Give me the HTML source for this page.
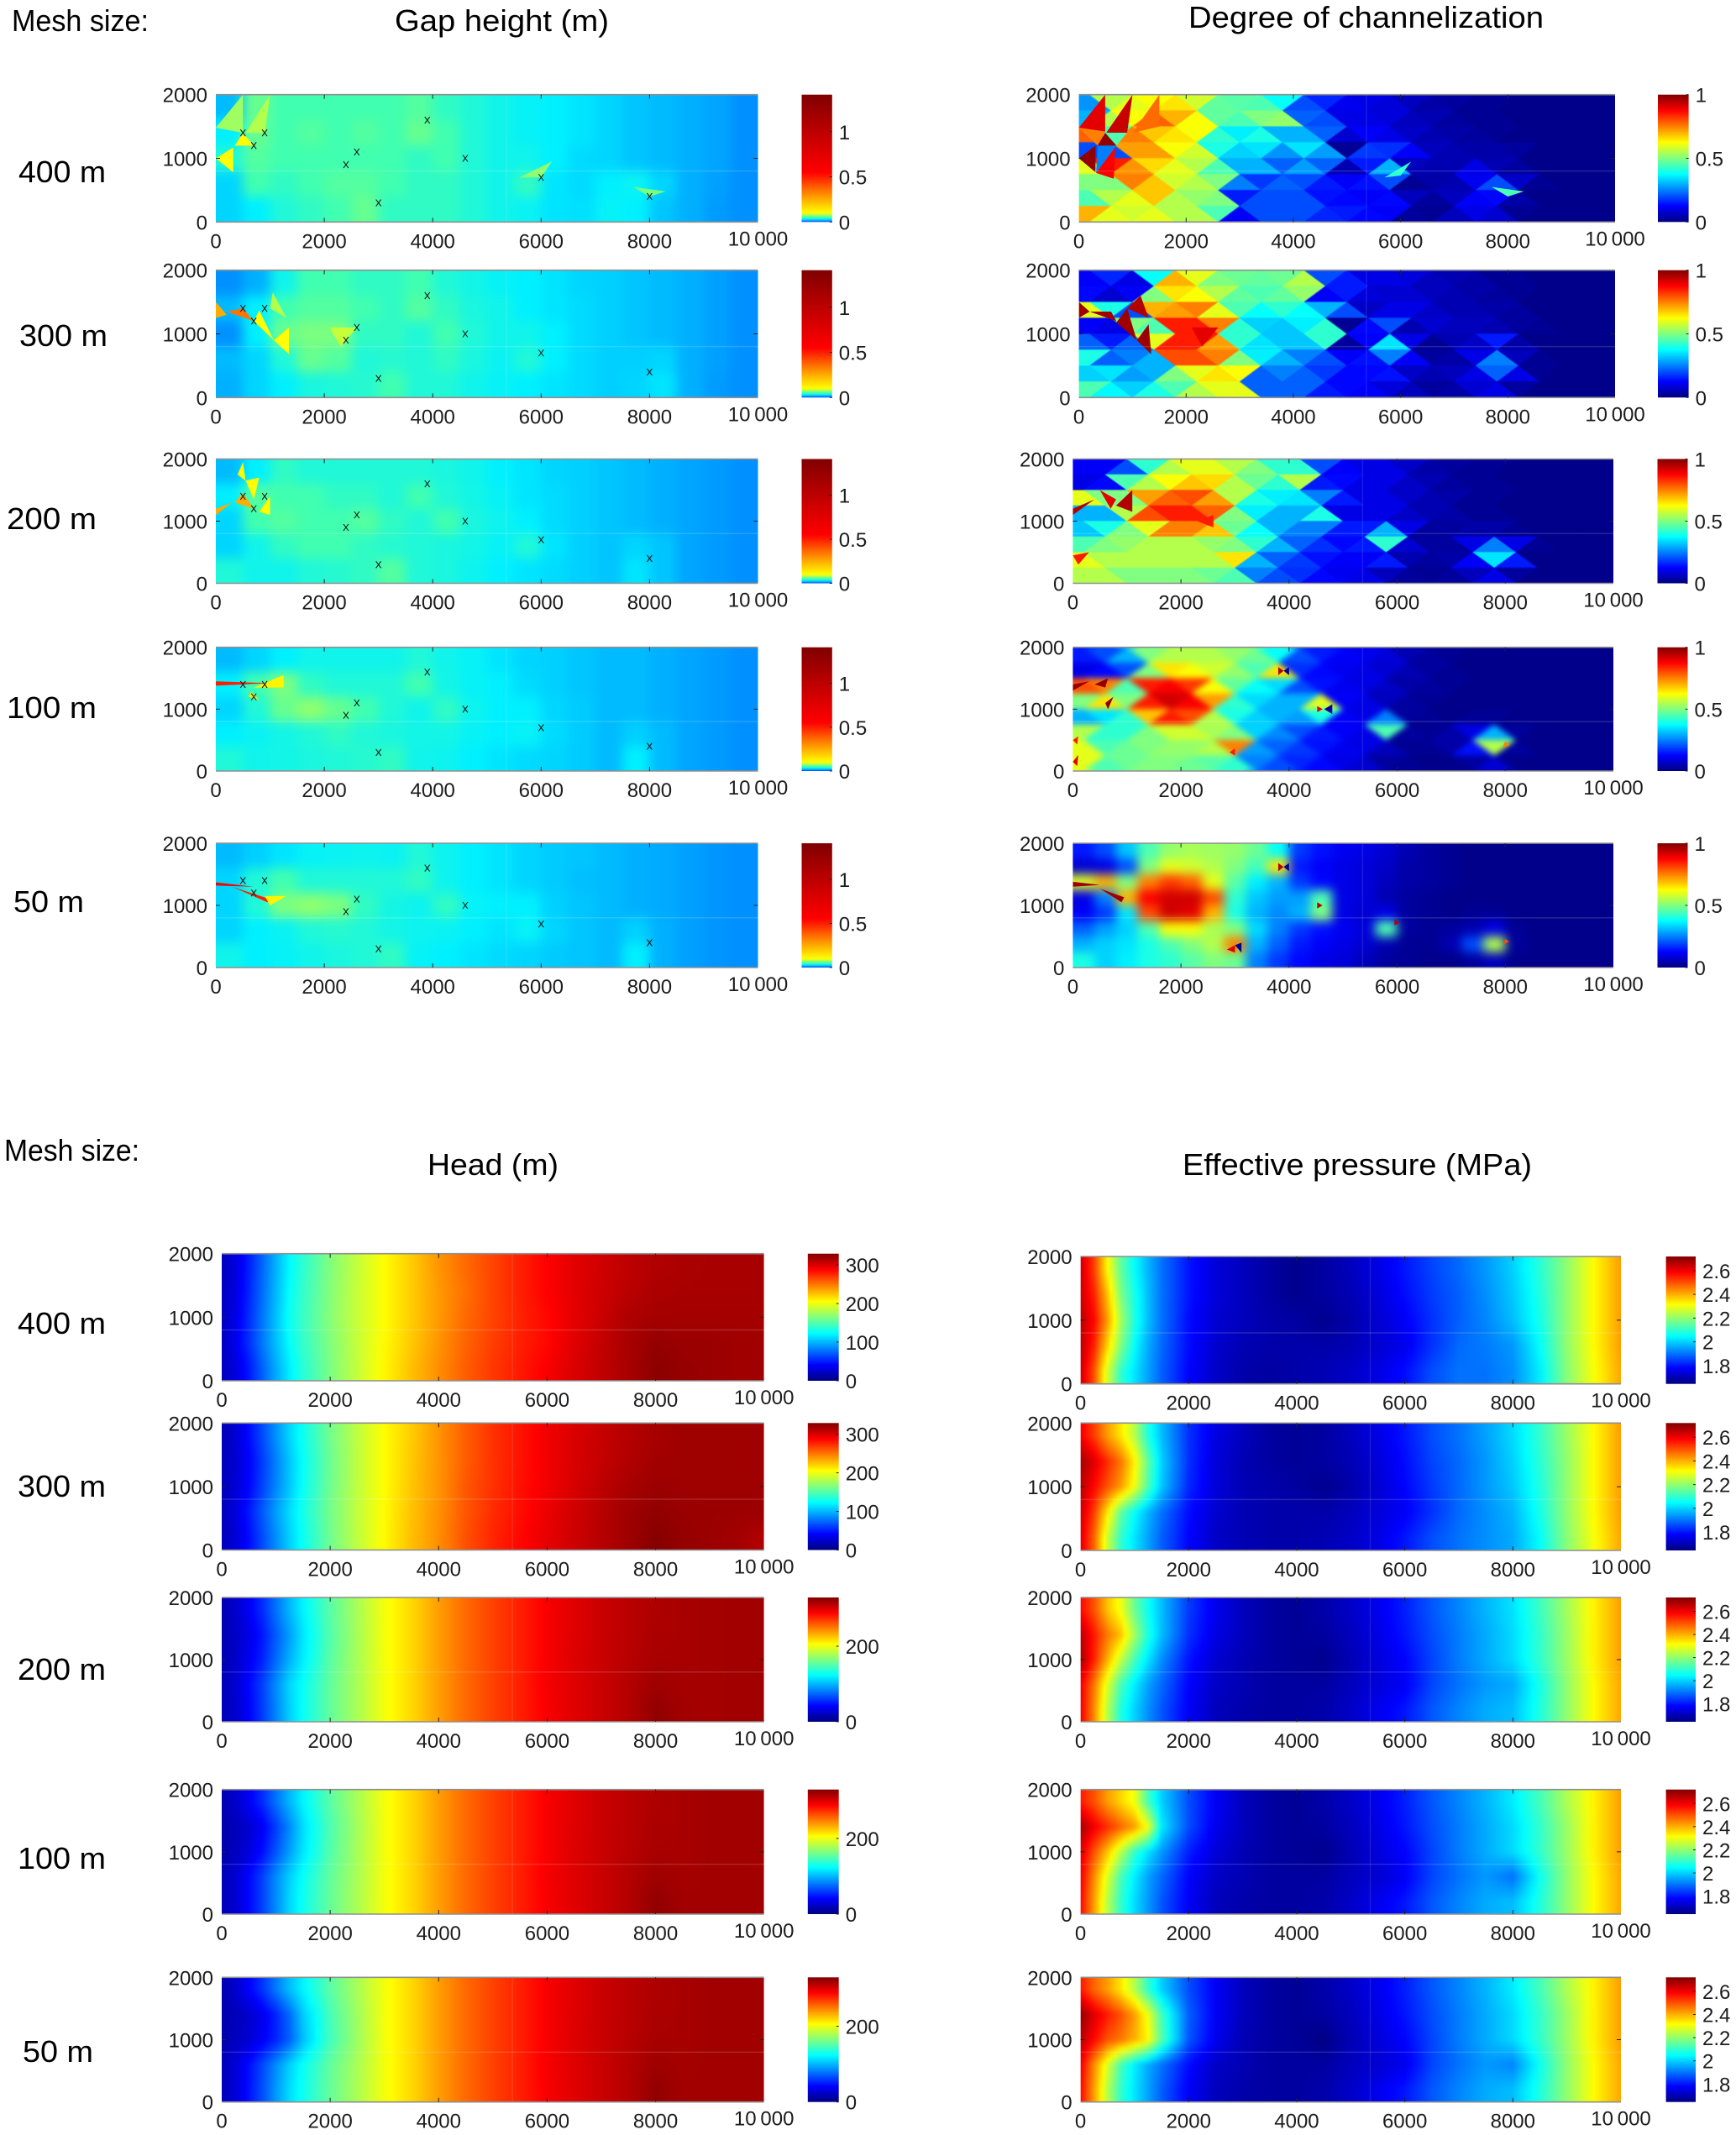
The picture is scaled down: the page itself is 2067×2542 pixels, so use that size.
<!DOCTYPE html>
<html lang="en">
<head>
<meta charset="utf-8">
<title>Mesh size comparison of subglacial fields</title>
<style>
html,body{margin:0;padding:0;background:#fff;}
svg{display:block;}
.t{font-family:"Liberation Sans",sans-serif;fill:#000;}
.k{font-family:"Liberation Sans",sans-serif;fill:#1c1c1c;font-size:24px;}
</style>
</head>
<body>
<svg id="figure" xmlns="http://www.w3.org/2000/svg" width="2067" height="2542" viewBox="0 0 2067 2542">
<defs id="defs">
<filter id="blurGap" x="-15%" y="-40%" width="130%" height="180%" color-interpolation-filters="sRGB"><feGaussianBlur stdDeviation="7"/></filter>
<filter id="blurMesh" x="-15%" y="-40%" width="130%" height="180%" color-interpolation-filters="sRGB"><feGaussianBlur stdDeviation="0.5"/></filter>
<filter id="blurFine" x="-15%" y="-40%" width="130%" height="180%" color-interpolation-filters="sRGB"><feGaussianBlur stdDeviation="3.5"/></filter>
<filter id="blurSmooth" x="-15%" y="-40%" width="130%" height="180%" color-interpolation-filters="sRGB"><feGaussianBlur stdDeviation="6"/></filter>
<filter id="blurRows" x="-5%" y="-40%" width="110%" height="180%" color-interpolation-filters="sRGB"><feGaussianBlur stdDeviation="0 3"/></filter>
</defs>
<rect width="2067" height="2542" fill="#fff"/>
<text class="t" x="14" y="37" font-size="36" textLength="163" lengthAdjust="spacingAndGlyphs">Mesh size:</text>
<text class="t" x="470" y="37" font-size="36" textLength="255" lengthAdjust="spacingAndGlyphs">Gap height (m)</text>
<text class="t" x="1415" y="33" font-size="36" textLength="423" lengthAdjust="spacingAndGlyphs">Degree of channelization</text>
<text class="t" x="22" y="217" font-size="36" textLength="104" lengthAdjust="spacingAndGlyphs">400 m</text>
<text class="t" x="23" y="412" font-size="36" textLength="105" lengthAdjust="spacingAndGlyphs">300 m</text>
<text class="t" x="8" y="630" font-size="36" textLength="107" lengthAdjust="spacingAndGlyphs">200 m</text>
<text class="t" x="8" y="855" font-size="36" textLength="107" lengthAdjust="spacingAndGlyphs">100 m</text>
<text class="t" x="16" y="1086" font-size="36" textLength="84" lengthAdjust="spacingAndGlyphs">50 m</text>
<text class="t" x="5" y="1382" font-size="36" textLength="161" lengthAdjust="spacingAndGlyphs">Mesh size:</text>
<text class="t" x="509" y="1399" font-size="36" textLength="156" lengthAdjust="spacingAndGlyphs">Head (m)</text>
<text class="t" x="1408" y="1399" font-size="36" textLength="416" lengthAdjust="spacingAndGlyphs">Effective pressure (MPa)</text>
<text class="t" x="21" y="1588" font-size="36" textLength="105" lengthAdjust="spacingAndGlyphs">400 m</text>
<text class="t" x="21" y="1782" font-size="36" textLength="105" lengthAdjust="spacingAndGlyphs">300 m</text>
<text class="t" x="21" y="2000" font-size="36" textLength="105" lengthAdjust="spacingAndGlyphs">200 m</text>
<text class="t" x="21" y="2225" font-size="36" textLength="105" lengthAdjust="spacingAndGlyphs">100 m</text>
<text class="t" x="27" y="2455" font-size="36" textLength="84" lengthAdjust="spacingAndGlyphs">50 m</text>
<g id="charts"></g>
</svg>
<script>
/* ---------- axis data ---------- */
const xTickValues = [0,2000,4000,6000,8000,10000];
const xTickLabels = ['0','2000','4000','6000','8000','10\u2009000'];
const yTickValues = [0,1000,2000];
const yTickLabels = ['0','1000','2000'];
const gapBarTicks = [0,0.5,1];
const gapBarLabels = ['0','0.5','1'];
const degreeBarTicks = [0,0.5,1];
const degreeBarLabels = ['0','0.5','1'];
const headBarTicksCoarse = [0,100,200,300];
const headBarLabelsCoarse = ['0','100','200','300'];
const headBarTicksFine = [0,200];
const headBarLabelsFine = ['0','200'];
const pressureBarTicks = [1.8,2,2.2,2.4,2.6];
const pressureBarLabels = ['1.8','2','2.2','2.4','2.6'];
const meshNames = ['400','300','200','100','50'];

/* moulin locations (m) */
const moulinX = [500,900,700,2600,2400,3900,4600,3000,6000,8000];
const moulinY = [1400,1400,1200,1100,900,1600,1000,300,700,400];

/* gap height (m): 20 columns of 500 m, rows from top */
const gap400 = [
[.02,.06,.05,.05,.05,.05,.05,.055,.045,.04,.035,.032,.03,.028,.025,.022,.02,.018,.016,.012],
[.03,.06,.05,.055,.05,.055,.05,.06,.05,.04,.035,.032,.03,.028,.025,.022,.02,.018,.016,.012],
[.04,.055,.05,.05,.05,.05,.05,.045,.05,.04,.035,.035,.03,.026,.025,.022,.02,.018,.016,.012],
[.025,.05,.045,.05,.055,.055,.05,.045,.045,.04,.035,.045,.028,.026,.03,.033,.025,.018,.015,.012],
[.025,.03,.04,.045,.05,.06,.045,.045,.045,.04,.035,.033,.028,.027,.032,.03,.022,.018,.014,.012]];
const gap300 = [
[.012,.018,.035,.05,.05,.045,.045,.05,.04,.036,.032,.03,.028,.025,.024,.022,.02,.018,.015,.012],
[.02,.03,.05,.055,.055,.05,.045,.055,.045,.038,.035,.03,.028,.026,.024,.022,.02,.018,.015,.012],
[.012,.03,.06,.065,.065,.045,.045,.04,.05,.04,.035,.035,.03,.026,.024,.022,.02,.018,.015,.012],
[.02,.025,.04,.06,.055,.04,.042,.04,.045,.038,.033,.04,.03,.026,.024,.024,.025,.018,.015,.012],
[.018,.025,.03,.038,.04,.042,.05,.04,.04,.035,.032,.03,.028,.026,.024,.025,.028,.018,.014,.012]];
const gap200 = [
[.02,.03,.045,.04,.04,.04,.04,.04,.038,.035,.03,.028,.025,.024,.022,.02,.018,.016,.014,.012],
[.03,.055,.05,.05,.045,.045,.04,.05,.04,.036,.032,.028,.026,.024,.022,.02,.018,.016,.014,.012],
[.025,.05,.055,.05,.05,.055,.045,.04,.05,.038,.034,.03,.026,.024,.022,.02,.018,.016,.014,.012],
[.025,.035,.045,.05,.05,.045,.042,.04,.038,.036,.032,.04,.028,.024,.022,.025,.022,.016,.014,.012],
[.04,.035,.035,.04,.042,.045,.055,.04,.038,.034,.03,.028,.026,.024,.022,.028,.022,.016,.014,.012]];
const gap100 = [
[.02,.025,.03,.035,.035,.035,.035,.04,.035,.032,.028,.025,.024,.022,.02,.02,.018,.016,.014,.012],
[.03,.05,.065,.045,.04,.04,.04,.05,.036,.032,.03,.026,.024,.022,.02,.02,.018,.016,.014,.012],
[.025,.04,.06,.07,.06,.05,.04,.035,.045,.034,.03,.03,.025,.023,.02,.02,.018,.016,.014,.012],
[.03,.033,.036,.04,.045,.04,.038,.036,.036,.032,.03,.032,.026,.023,.02,.024,.02,.016,.014,.012],
[.04,.035,.036,.038,.04,.042,.045,.035,.034,.03,.028,.026,.025,.023,.02,.03,.02,.016,.014,.012]];
const gap50 = [
[.02,.024,.028,.032,.033,.034,.033,.04,.034,.03,.028,.025,.023,.022,.02,.018,.017,.015,.013,.012],
[.025,.04,.05,.04,.04,.04,.04,.045,.034,.03,.028,.025,.023,.021,.02,.018,.017,.015,.013,.012],
[.025,.04,.065,.07,.065,.045,.037,.034,.045,.032,.03,.03,.024,.022,.02,.018,.017,.015,.013,.012],
[.025,.03,.033,.04,.042,.04,.036,.034,.033,.03,.028,.032,.025,.022,.02,.024,.018,.015,.013,.012],
[.035,.03,.032,.035,.038,.04,.045,.032,.03,.028,.026,.025,.023,.022,.02,.03,.018,.015,.013,.012]];

/* degree of channelization: 25 columns of 400 m, rows from top */
const degree400 = [
[.27,.55,.6,.62,.65,.58,.47,.46,.45,.38,.2,.16,.11,.1,.09,.06,.04,.03,.02,.02,.01,.01,.01,.01,.01],
[.3,.55,.62,.78,.7,.62,.47,.45,.5,.52,.22,.2,.1,.1,.09,.06,.05,.03,.02,.02,.01,.01,.01,.01,.01],
[.78,.45,.75,.68,.65,.62,.42,.36,.4,.3,.3,.22,.08,.12,.1,.07,.05,.04,.03,.02,.01,.01,.01,.01,.01],
[.2,.2,.72,.72,.62,.58,.4,.33,.35,.27,.35,.28,.02,.18,.17,.12,.06,.05,.04,.04,.03,.01,.01,.01,.01],
[.6,.85,.73,.66,.6,.55,.45,.3,.3,.22,.28,.22,.05,.15,.3,.06,.05,.05,.1,.05,.03,.01,.01,.01,.01],
[.5,.5,.75,.68,.58,.55,.5,.25,.18,.22,.2,.15,.12,.14,.2,.02,.04,.05,.11,.2,.07,.02,.01,.01,.01],
[.45,.55,.6,.68,.55,.52,.5,.15,.2,.2,.2,.14,.13,.12,.13,.06,.03,.06,.12,.13,.04,.01,.01,.01,.01],
[.7,.6,.58,.6,.55,.55,.45,.12,.2,.2,.2,.16,.15,.13,.12,.03,.02,.06,.1,.08,.02,.01,.01,.01,.01]];
const degree300 = [
[.12,.16,.1,.38,.7,.6,.5,.48,.47,.48,.55,.2,.15,.1,.1,.09,.06,.05,.04,.02,.02,.01,.01,.01,.01],
[.13,.08,.12,.5,.65,.62,.55,.47,.45,.47,.52,.12,.15,.09,.08,.08,.06,.05,.04,.03,.02,.01,.01,.01,.01],
[.6,.4,.2,.7,.72,.75,.6,.45,.38,.42,.38,.3,.2,.07,.1,.1,.07,.05,.05,.04,.03,.01,.01,.01,.01],
[.12,.1,.5,.45,.85,.85,.75,.42,.33,.32,.36,.42,.02,.13,.2,.05,.08,.06,.06,.05,.03,.02,.01,.01,.01],
[.22,.15,.22,.6,.85,.85,.72,.42,.35,.32,.32,.42,.03,.12,.35,.1,.02,.05,.07,.15,.04,.01,.01,.01,.01],
[.4,.22,.25,.3,.8,.8,.75,.5,.36,.3,.25,.2,.12,.14,.25,.12,.03,.04,.1,.25,.06,.02,.01,.01,.01],
[.33,.35,.28,.3,.5,.6,.65,.62,.22,.25,.22,.18,.13,.13,.14,.07,.05,.06,.1,.22,.1,.02,.01,.01,.01],
[.45,.37,.33,.4,.45,.55,.6,.6,.22,.22,.22,.15,.13,.12,.09,.06,.03,.04,.08,.1,.03,.01,.01,.01,.01]];
const degree200 = [
[.12,.12,.2,.42,.55,.6,.6,.55,.5,.42,.42,.2,.12,.1,.1,.07,.04,.03,.02,.02,.01,.01,.01,.01,.01],
[.1,.13,.45,.55,.62,.68,.66,.55,.48,.42,.55,.15,.13,.1,.1,.07,.05,.03,.02,.02,.01,.01,.01,.01,.01],
[.6,.5,.5,.72,.78,.8,.72,.55,.4,.36,.35,.25,.15,.1,.1,.07,.05,.04,.02,.02,.01,.01,.01,.01,.01],
[.3,.3,.55,.8,.85,.85,.78,.5,.36,.3,.3,.4,.1,.1,.1,.07,.05,.04,.02,.02,.01,.01,.01,.01,.01],
[.32,.4,.5,.6,.75,.75,.68,.48,.38,.3,.25,.25,.15,.15,.3,.1,.03,.03,.04,.04,.02,.01,.01,.01,.01],
[.45,.5,.52,.55,.55,.55,.52,.5,.42,.3,.22,.17,.13,.15,.42,.08,.03,.03,.1,.25,.1,.02,.01,.01,.01],
[.6,.55,.55,.55,.55,.55,.55,.65,.3,.22,.18,.14,.12,.12,.15,.05,.03,.04,.12,.35,.15,.01,.01,.01,.01],
[.55,.55,.5,.5,.5,.5,.48,.45,.25,.2,.17,.13,.11,.1,.06,.03,.02,.03,.06,.1,.03,.01,.01,.01,.01]];
const degree100 = [
[.15,.2,.3,.5,.55,.55,.55,.52,.48,.38,.2,.15,.12,.11,.09,.05,.03,.02,.01,.01,.01,.01,.01,.01,.01],
[.1,.13,.2,.5,.65,.62,.58,.52,.45,.65,.17,.13,.11,.1,.08,.05,.03,.02,.01,.01,.01,.01,.01,.01,.01],
[.8,.75,.45,.85,.88,.82,.62,.47,.38,.34,.2,.14,.11,.1,.07,.04,.03,.02,.01,.01,.01,.01,.01,.01,.01],
[.5,.65,.5,.85,.92,.88,.72,.42,.34,.3,.3,.6,.12,.1,.06,.03,.02,.01,.01,.01,.01,.01,.01,.01,.01],
[.3,.35,.42,.68,.85,.8,.55,.4,.33,.3,.28,.4,.12,.1,.25,.03,.02,.01,.02,.02,.01,.01,.01,.01,.01],
[.55,.42,.42,.5,.58,.58,.54,.5,.33,.26,.2,.15,.12,.1,.45,.03,.02,.04,.1,.3,.03,.01,.01,.01,.01],
[.6,.45,.48,.5,.52,.52,.55,.75,.28,.22,.18,.14,.11,.1,.06,.02,.02,.04,.14,.55,.03,.01,.01,.01,.01],
[.6,.45,.48,.5,.5,.48,.46,.42,.25,.2,.16,.13,.1,.08,.03,.02,.01,.01,.03,.08,.01,.01,.01,.01,.01]];
const degree50 = [
[.15,.2,.32,.45,.52,.54,.53,.52,.48,.38,.18,.14,.11,.1,.08,.05,.03,.02,.01,.01,.01,.01,.01,.01,.01],
[.08,.1,.2,.5,.6,.58,.55,.5,.44,.65,.15,.12,.1,.09,.07,.04,.03,.02,.01,.01,.01,.01,.01,.01,.01],
[.6,.7,.5,.75,.82,.78,.6,.46,.36,.3,.18,.13,.1,.09,.06,.04,.03,.02,.01,.01,.01,.01,.01,.01,.01],
[.1,.25,.7,.88,.92,.92,.8,.42,.32,.28,.28,.45,.1,.09,.05,.03,.02,.01,.01,.01,.01,.01,.01,.01,.01],
[.12,.18,.35,.8,.92,.9,.7,.4,.3,.26,.3,.5,.1,.08,.1,.03,.02,.01,.02,.02,.01,.01,.01,.01,.01],
[.22,.28,.33,.45,.62,.62,.54,.5,.34,.25,.18,.14,.11,.09,.45,.03,.02,.03,.05,.1,.02,.01,.01,.01,.01],
[.3,.33,.35,.4,.45,.5,.55,.75,.3,.22,.15,.12,.1,.08,.05,.02,.02,.05,.2,.55,.03,.01,.01,.01,.01],
[.4,.33,.36,.4,.42,.46,.5,.48,.25,.18,.13,.1,.09,.06,.03,.02,.01,.01,.03,.06,.01,.01,.01,.01,.01]];

/* triangular mesh facets: x1,y1,x2,y2,x3,y3 (m), value */
const gapFacets400 = [[0,1000,320,1170,320,780,.1],[500,1400,350,1200,700,1200,.1],[0,1480,500,2000,500,1400,.075],[550,1400,1000,2000,900,1400,.08],[5600,700,6200,950,6000,700,.07],[7700,550,8300,480,8000,400,.065]];
const gapFacets300 = [[0,1500,200,1300,0,1250,.25],[200,1350,500,1400,700,1200,.35],[800,1370,700,1200,1070,900,.1],[1070,900,1350,1100,1350,680,.1],[1000,1400,1050,1650,1300,1250,.08],[2100,1100,2600,1100,2300,800,.085]];
const gapFacets200 = [[0,1200,300,1300,0,1100,.25],[550,1650,700,1350,800,1700,.1],[350,1300,700,1200,500,1450,.25],[800,1150,1000,1400,1000,1100,.1],[400,1750,550,1650,500,1950,.1]];
const gapFacets100 = [[0,1380,1000,1420,0,1450,.5],[700,1350,1250,1550,1250,1350,.12],[600,1200,800,1150,650,1280,.15]];
const gapFacets50 = [[0,1320,700,1300,0,1370,.6],[300,1300,1000,1100,950,1050,.5],[900,1150,1300,1150,1000,1000,.12]];
const degreeFacets400 = [[0,1480,490,2000,490,1420,.9],[510,1400,1000,2000,900,1400,.93],[0,1480,350,1200,490,1420,.75],[0,1000,310,1200,310,780,.98],[500,1400,900,1400,700,1200,.45],[490,1400,350,1200,700,1200,.98],[320,770,680,1200,650,680,.88],[350,1200,700,1200,320,770,.25],[1000,1400,1500,2000,1500,1500,.77],[5700,700,6200,950,6000,730,.42],[7700,550,8300,480,8000,400,.45]];
const degreeFacets300 = [[0,1500,200,1350,0,1250,.97],[200,1350,700,1200,600,1350,.97],[700,1180,1080,900,900,1400,.97],[1080,900,1350,680,1300,1150,.97],[900,1400,1300,1250,1150,1600,.95],[2100,1100,2600,1100,2300,800,.9]];
const degreeFacets200 = [[0,1200,400,1350,0,1100,.95],[500,1500,800,1350,700,1200,.9],[800,1250,1100,1500,1100,1150,.95],[2300,1000,2600,900,2600,1100,.85],[100,300,0,450,300,500,.85]];
const degreeFacets100 = [[0,1300,300,1450,0,1400,.98],[400,1400,650,1500,600,1350,.98],[600,1100,750,1200,650,1000,.98],[3800,1550,3800,1680,3900,1620,.95],[3900,1620,4000,1680,4000,1550,.02],[4520,950,4520,1050,4620,1000,.9],[4650,1000,4800,1080,4800,920,.03],[7950,380,8000,480,8080,420,.75],[2900,300,3000,370,3000,250,.85],[0,500,100,560,80,430,.85],[0,150,100,260,80,80,.9]];
const degreeFacets50 = [[0,1300,500,1330,0,1380,.97],[500,1270,950,1130,900,1050,.97],[3800,1550,3800,1680,3900,1620,.95],[3900,1620,4000,1680,4000,1550,.02],[4520,950,4520,1050,4620,1000,.95],[5950,680,5950,770,6050,720,.95],[7960,370,8000,460,8070,420,.8],[2850,290,3000,360,3000,240,.9],[3000,360,3120,400,3120,240,.02]];

/* head and pressure sample columns (m) */
const fieldColumns = [0,250,500,750,1000,1250,1500,2000,2500,3000,3500,4000,4500,5000,5500,6000,6500,7000,7500,8000,8500,9000,9500,10000];

/* head (m): rows from top */
const head400 = [
[20,30,50,74,98,122,138,165,187,206,222,240,254,266,278,288,297,303,309,313,315,316,316,316],
[20,31,52,76,100,124,140,166,188,206,222,238,252,266,278,288,297,304,310,315,316,316,316,316],
[20,33,55,79,103,127,142,167,188,206,222,238,254,266,277,286,296,305,314,317,317,317,317,317],
[20,35,56,80,102,124,140,165,187,207,223,240,256,268,278,286,298,307,316,322,320,320,319,318],
[20,30,48,72,96,118,136,163,187,208,226,242,258,270,280,290,300,308,316,325,322,320,319,319]];
const head300 = [
[18,27,44,65,88,110,128,160,185,206,222,240,258,272,282,292,300,306,312,316,319,319,319,319],
[18,26,40,60,82,105,125,158,185,206,223,240,258,272,282,292,300,307,313,318,319,319,319,319],
[18,27,42,62,84,105,126,159,185,206,224,240,260,272,283,292,301,309,316,320,319,319,319,319],
[18,30,48,70,92,112,130,161,186,207,225,241,260,274,284,294,303,311,319,323,321,320,320,320],
[18,28,44,65,87,108,127,159,185,207,226,242,262,276,286,296,304,311,319,327,322,320,318,312]];
const head200 = [
[16,24,38,55,78,100,120,152,178,202,218,237,254,267,278,290,298,305,310,314,316,317,318,318],
[16,22,33,48,70,92,115,150,177,202,218,237,254,267,278,290,298,305,310,315,316,317,318,318],
[16,23,36,52,75,98,118,152,178,202,218,237,254,267,278,290,299,305,311,316,316,317,318,318],
[18,26,42,62,86,110,126,155,178,202,218,237,254,267,278,291,298,305,312,319,317,317,318,318],
[18,25,40,60,84,108,126,155,178,202,218,237,254,267,278,290,298,305,312,323,318,317,318,318]];
const head100 = [
[16,24,38,55,78,100,120,152,178,202,218,237,254,267,278,290,298,305,310,314,316,318,318,318],
[14,18,26,38,60,85,112,148,176,202,218,237,254,267,278,290,298,305,310,315,316,318,318,318],
[14,20,30,45,68,92,115,150,177,202,218,237,254,267,278,290,299,305,311,316,316,318,318,318],
[18,26,42,62,86,108,126,155,178,202,218,237,254,267,278,291,298,305,312,319,317,318,318,318],
[18,26,42,62,86,110,128,156,179,202,218,237,254,267,278,290,298,305,312,323,318,318,318,318]];
const head50 = [
[16,25,40,58,80,102,120,152,178,202,218,237,254,267,278,290,298,305,310,314,316,318,318,318],
[14,18,25,35,52,75,106,146,175,202,218,237,254,267,278,290,298,305,310,315,316,318,318,318],
[14,20,27,38,52,72,102,144,174,202,218,237,254,267,278,290,299,305,311,316,316,318,318,318],
[18,28,44,64,86,108,126,155,178,202,218,237,254,267,278,291,298,305,312,319,317,318,318,318],
[18,28,46,66,90,112,128,156,179,202,218,237,254,267,278,290,298,305,312,323,318,318,318,318]];

/* effective pressure (MPa): rows from top */
const pressure400 = [
[2.64,2.52,2.32,2.15,2.05,1.97,1.9,1.8,1.74,1.71,1.68,1.66,1.68,1.71,1.75,1.8,1.85,1.89,1.94,2,2.09,2.2,2.32,2.42],
[2.64,2.55,2.38,2.18,2.07,1.98,1.9,1.8,1.74,1.71,1.68,1.66,1.68,1.7,1.74,1.79,1.84,1.88,1.93,1.99,2.08,2.2,2.32,2.42],
[2.66,2.58,2.42,2.22,2.08,1.98,1.9,1.79,1.73,1.71,1.69,1.68,1.66,1.69,1.73,1.77,1.83,1.88,1.92,1.98,2.07,2.2,2.32,2.42],
[2.66,2.55,2.36,2.18,2.05,1.96,1.89,1.79,1.73,1.7,1.69,1.69,1.69,1.7,1.73,1.76,1.83,1.89,1.91,1.94,2.05,2.2,2.32,2.42],
[2.64,2.5,2.27,2.1,2.02,1.95,1.88,1.78,1.72,1.69,1.68,1.69,1.7,1.72,1.75,1.79,1.86,1.9,1.9,1.93,2.03,2.19,2.31,2.41]];
const pressure300 = [
[2.6,2.52,2.42,2.34,2.24,2.08,1.98,1.83,1.75,1.71,1.68,1.67,1.68,1.71,1.75,1.8,1.86,1.9,1.95,2.01,2.1,2.21,2.32,2.42],
[2.68,2.62,2.54,2.46,2.33,2.15,2,1.83,1.74,1.7,1.68,1.67,1.68,1.7,1.74,1.79,1.85,1.89,1.94,2,2.09,2.2,2.32,2.42],
[2.66,2.58,2.5,2.42,2.3,2.13,1.99,1.82,1.74,1.7,1.69,1.68,1.66,1.69,1.73,1.78,1.84,1.89,1.94,1.99,2.08,2.2,2.32,2.42],
[2.64,2.52,2.34,2.15,2.05,1.97,1.9,1.79,1.73,1.7,1.69,1.69,1.69,1.71,1.74,1.77,1.83,1.89,1.93,1.97,2.07,2.2,2.32,2.42],
[2.62,2.48,2.26,2.1,2.02,1.95,1.88,1.78,1.72,1.7,1.69,1.69,1.7,1.72,1.75,1.8,1.86,1.9,1.93,1.96,2.05,2.19,2.31,2.41]];
const pressure200 = [
[2.58,2.5,2.38,2.3,2.16,2.06,1.98,1.84,1.76,1.71,1.68,1.67,1.69,1.72,1.76,1.81,1.87,1.92,1.97,2.02,2.11,2.22,2.33,2.42],
[2.66,2.56,2.46,2.38,2.22,2.08,1.98,1.83,1.75,1.71,1.68,1.67,1.68,1.71,1.75,1.8,1.86,1.91,1.96,2.01,2.1,2.21,2.33,2.42],
[2.68,2.55,2.4,2.25,2.12,2.02,1.93,1.8,1.73,1.7,1.68,1.67,1.66,1.7,1.74,1.78,1.85,1.91,1.96,2.01,2.1,2.21,2.33,2.42],
[2.6,2.46,2.28,2.12,2.03,1.95,1.89,1.78,1.72,1.7,1.68,1.68,1.68,1.71,1.74,1.77,1.85,1.9,1.94,1.96,2.07,2.2,2.32,2.41],
[2.6,2.44,2.24,2.08,2,1.93,1.87,1.77,1.71,1.69,1.68,1.68,1.69,1.72,1.76,1.8,1.87,1.92,1.96,1.98,2.08,2.2,2.32,2.41]];
const pressure100 = [
[2.56,2.5,2.42,2.36,2.3,2.12,2,1.86,1.77,1.71,1.68,1.67,1.69,1.72,1.76,1.81,1.87,1.92,1.97,2.03,2.12,2.23,2.33,2.42],
[2.68,2.6,2.54,2.48,2.42,2.3,2.03,1.86,1.76,1.71,1.68,1.67,1.68,1.71,1.75,1.8,1.86,1.91,1.96,2.01,2.1,2.21,2.33,2.42],
[2.62,2.5,2.38,2.24,2.1,2.02,1.94,1.81,1.74,1.7,1.68,1.67,1.66,1.7,1.74,1.78,1.85,1.91,1.96,2.01,2.1,2.21,2.33,2.42],
[2.6,2.44,2.28,2.12,2.03,1.95,1.89,1.78,1.72,1.7,1.68,1.68,1.68,1.71,1.73,1.77,1.85,1.9,1.94,1.9,2.06,2.2,2.32,2.41],
[2.58,2.42,2.24,2.1,2.01,1.94,1.87,1.77,1.71,1.69,1.68,1.68,1.69,1.72,1.76,1.8,1.87,1.92,1.96,1.98,2.08,2.2,2.32,2.41]];
const pressure50 = [
[2.56,2.48,2.42,2.34,2.24,2.1,2,1.86,1.77,1.71,1.68,1.67,1.69,1.72,1.76,1.81,1.87,1.92,1.97,2.03,2.12,2.23,2.33,2.42],
[2.7,2.62,2.56,2.5,2.42,2.3,2.12,1.88,1.77,1.71,1.68,1.67,1.68,1.71,1.75,1.8,1.86,1.91,1.96,2.01,2.1,2.21,2.33,2.42],
[2.66,2.58,2.5,2.46,2.4,2.32,2.14,1.87,1.76,1.7,1.68,1.67,1.65,1.7,1.74,1.78,1.85,1.91,1.96,2.01,2.1,2.21,2.33,2.42],
[2.6,2.44,2.28,2.12,2.03,1.96,1.9,1.79,1.72,1.7,1.68,1.68,1.68,1.71,1.73,1.76,1.85,1.9,1.94,1.92,2.06,2.2,2.32,2.41],
[2.58,2.42,2.24,2.1,2.02,1.95,1.88,1.77,1.71,1.69,1.68,1.68,1.69,1.72,1.76,1.8,1.87,1.92,1.96,1.98,2.08,2.2,2.32,2.41]];

/* ---------- colour maps ---------- */
const clamp01 = v => Math.max(0, Math.min(1, v));
function jetAt(t){
  t = clamp01(t);
  const r = clamp01(Math.min(4*t-1.5, -4*t+4.5));
  const g = clamp01(Math.min(4*t-0.5, -4*t+3.5));
  const b = clamp01(Math.min(4*t+0.5, -4*t+2.5));
  return 'rgb('+Math.round(r*255)+','+Math.round(g*255)+','+Math.round(b*255)+')';
}
const gapColorStops = [[0,0,64,255],[.012,0,144,255],[.03,0,240,255],[.05,64,255,176],[.075,160,255,96],[.1,255,255,0],[.3,255,144,0],[.55,255,0,0],[1.41,128,0,0]];
function gapColor(v){
  const s = gapColorStops;
  if (v <= s[0][0]) return 'rgb('+s[0][1]+','+s[0][2]+','+s[0][3]+')';
  for (let i = 1; i < s.length; i++){
    if (v <= s[i][0]){
      const f = (v - s[i-1][0]) / (s[i][0] - s[i-1][0]);
      const c = [1,2,3].map(k => Math.round(s[i-1][k] + f*(s[i][k]-s[i-1][k])));
      return 'rgb('+c.join(',')+')';
    }
  }
  return 'rgb(128,0,0)';
}
const colorGap = v => gapColor(v);
const colorDegree = v => jetAt(v);
const colorHead = v => jetAt(v / 329);
const colorPressure = v => jetAt((v - 1.645) / 1.075);

/* ---------- layout ---------- */
const NS = 'http://www.w3.org/2000/svg';
const root = document.getElementById('charts');
const defsEl = document.getElementById('defs');
let gradientCount = 0;
function make(tag, parent){
  const el = document.createElementNS(NS, tag);
  parent.appendChild(el);
  return el;
}
function setAll(el, props){
  for (const k in props) el.setAttribute(k, props[k]);
}

function drawLabel(parent, txt, x, y, anchor){
  const el = make('text', parent);
  
  
  setAll(el, {class:'k', x:x, y:y, 'text-anchor':anchor});
  el.textContent = txt;
}

function drawFrame(g, X, Y, box){
  /* faint stitching seams in the source figure */
  const seamH = make('line', g);
  
  
  setAll(seamH, {x1:X(0), x2:X(10000), y1:Y(800), y2:Y(800), stroke:'#fff', 'stroke-opacity':.15, 'stroke-width':1.5});
  const seamV = make('line', g);
  
  
  setAll(seamV, {x1:X(5360), x2:X(5360), y1:Y(0), y2:Y(2000), stroke:'#fff', 'stroke-opacity':.1, 'stroke-width':1.5});
  [2000,0].forEach(v => {
    const edge = make('line', g);
    
    
    setAll(edge, {x1:X(0), x2:X(10000), y1:Y(v), y2:Y(v), stroke:'#8f8f8f', 'stroke-width':1.6});
  });
  xTickValues.forEach((v,i) => {
    if (v > 0 && v < 10000){
      [[Y(0),Y(0)-5],[Y(2000),Y(2000)+5]].forEach(p => {
        const tk = make('line', g);
        
        
        setAll(tk, {x1:X(v), x2:X(v), y1:p[0], y2:p[1], stroke:'#222', 'stroke-width':1});
      });
    }
    drawLabel(g, xTickLabels[i], X(v), Y(0) + (v === 10000 ? 28 : 31), 'middle');
  });
  yTickValues.forEach((v,i) => {
    if (v === 1000){
      [[X(0),X(0)+5],[X(10000),X(10000)-5]].forEach(p => {
        const tk = make('line', g);
        
        
        setAll(tk, {x1:p[0], x2:p[1], y1:Y(v), y2:Y(v), stroke:'#222', 'stroke-width':1});
      });
    }
    drawLabel(g, yTickLabels[i], X(0) - 10, Y(v) + 9, 'end');
  });
}

function drawColorbar(g, box, colorFn, lo, hi, ticks, labels){
  const id = 'cb' + (gradientCount++);
  const grad = make('linearGradient', defsEl);
  setAll(grad, {id:id, x1:0, y1:1, x2:0, y2:0});
  const steps = 120;
  for (let i = 0; i <= steps; i++){
    const f = i / steps;
    const st = make('stop', grad);
    setAll(st, {offset:f, 'stop-color':colorFn(lo + f*(hi-lo))});
  }
  const Yc = v => box.bottom - (v-lo)/(hi-lo)*(box.bottom-box.top);
  const bar = make('rect', g);
  
  
  setAll(bar, {x:box.cbL, y:box.top, width:box.cbR-box.cbL, height:box.bottom-box.top, fill:'url(#'+id+')'});
  ticks.forEach((v,i) => {
    const tk = make('line', g);
    
    
    setAll(tk, {x1:box.cbR-3, x2:box.cbR, y1:Yc(v), y2:Yc(v), stroke:'#222', 'stroke-width':1});
    drawLabel(g, labels[i], box.cbR + 8, Math.max(Yc(v), box.top) + 9, 'start');
  });
}

function drawFacets(g, facets, X, Y, colorFn){
  facets.forEach(f => {
    const tri = make('polygon', g);
    
    
    tri.setAttribute('points', X(f[0])+','+Y(f[1])+' '+X(f[2])+','+Y(f[3])+' '+X(f[4])+','+Y(f[5]));
    tri.setAttribute('fill', colorFn(f[6]));
  });
}

function makeClip(box){
  const id = 'clip' + (gradientCount++);
  const cp = make('clipPath', defsEl);
  cp.setAttribute('id', id);
  const r = make('rect', cp);
  setAll(r, {x:box.left, y:box.top, width:box.right-box.left, height:box.bottom-box.top});
  return id;
}

/* heatmap cells on a uniform grid; optional triangle lattice gives a mesh look */
function drawCellPanel(name, box, grid, colorFn, filterId, lattice, facets, showMoulins, barLo, barHi, ticks, labels){
  const g = make('g', root);
  
  
  const X = v => box.left + v/10000*(box.right-box.left);
  const Y = v => box.bottom - v/2000*(box.bottom-box.top);
  const clipId = makeClip(box);
  const clipped = make('g', g);
  clipped.setAttribute('clip-path', 'url(#'+clipId+')');
  const cells = make('g', clipped);
  cells.setAttribute('filter', 'url(#'+filterId+')');
  const nr = grid.length, nc = grid[0].length;
  const dx = 10000/nc, dy = 2000/nr;
  grid.forEach((row, r) => {
    row.forEach((v, c) => {
      const x0 = c === 0 ? X(0)-30 : X(c*dx);
      const x1 = c === nc-1 ? X(10000)+30 : X((c+1)*dx)+0.5;
      const y0 = r === 0 ? Y(2000)-30 : Y(2000-r*dy);
      const y1 = r === nr-1 ? Y(0)+30 : Y(2000-(r+1)*dy)+0.5;
      const cell = make('rect', cells);
      
      
      setAll(cell, {x:x0, y:y0, width:x1-x0, height:y1-y0, fill:colorFn(v)});
    });
  });
  if (lattice){
    grid.forEach((row, r) => {
      const yTop = Y(2000-r*dy), yBot = Y(2000-(r+1)*dy);
      row.forEach((v, c) => {
        const xc = X((c+.5)*dx), xl = X((c-.5)*dx), xr = X((c+1.5)*dx);
        const up = (r+c) % 2 === 0;
        const tri = make('polygon', cells);
        
        
        tri.setAttribute('points', up
          ? xl+','+yBot+' '+xr+','+yBot+' '+xc+','+yTop
          : xl+','+yTop+' '+xr+','+yTop+' '+xc+','+yBot);
        tri.setAttribute('fill', colorFn(v));
        tri.setAttribute('stroke', colorFn(v));
        tri.setAttribute('stroke-width', '0.4');
      });
    });
  }
  drawFacets(clipped, facets, X, Y, colorFn);
  drawFrame(g, X, Y, box);
  if (showMoulins){
    moulinX.forEach((mx, i) => {
      const cx = X(mx), cy = Y(moulinY[i]);
      [[-3,-4,3,4],[-3,4,3,-4]].forEach(d => {
        const stroke = make('line', g);
        
        
        setAll(stroke, {x1:cx+d[0], y1:cy+d[1], x2:cx+d[2], y2:cy+d[3], stroke:'#111', 'stroke-width':1});
      });
    });
  }
  drawColorbar(g, box, colorFn, barLo, barHi, ticks, labels);
}

/* heatmap rows: shading between sampled rows and columns happens in value space,
   so that jet colours stay saturated */
function drawRowPanel(name, box, grid, colorFn, barLo, barHi, ticks, labels){
  const g = make('g', root);
  
  
  const X = v => box.left + v/10000*(box.right-box.left);
  const Y = v => box.bottom - v/2000*(box.bottom-box.top);
  const clipId = makeClip(box);
  const clipped = make('g', g);
  clipped.setAttribute('clip-path', 'url(#'+clipId+')');
  const bands = make('g', clipped);
  bands.setAttribute('filter', 'url(#blurRows)');
  const nr = grid.length, dy = 2000/nr, sub = 5, xSub = 4;
  const total = (nr-1)*sub;
  for (let s = 0; s <= total; s++){
    const t = s/sub;
    const a = Math.floor(t), b = Math.min(a+1, nr-1), f = t-a;
    const id = 'rowGrad' + (gradientCount++);
    const grad = make('linearGradient', defsEl);
    setAll(grad, {id:id, gradientUnits:'userSpaceOnUse', x1:X(0), x2:X(10000), y1:0, y2:0});
    const blended = grid[a].map((v, c) => v + f*(grid[b][c]-v));
    blended.forEach((v, c) => {
      const next = c+1 < blended.length ? c+1 : c;
      const parts = c+1 < blended.length ? xSub : 1;
      for (let k = 0; k < parts; k++){
        const w = k/xSub;
        const st = make('stop', grad);
        setAll(st, {offset:(fieldColumns[c] + w*(fieldColumns[next]-fieldColumns[c]))/10000, 'stop-color':colorFn(v + w*(blended[next]-v))});
      }
    });
    const yc = Y(2000-(t+.5)*dy);
    const h = Y(0)-Y(dy/sub);
    const y0 = s === 0 ? Y(2000)-30 : yc - h/2;
    const y1 = s === total ? Y(0)+30 : yc + h/2 + 0.5;
    const band = make('rect', bands);
    
    
    setAll(band, {x:X(0), y:y0, width:X(10000)-X(0), height:y1-y0, fill:'url(#'+id+')'});
  }
  drawFrame(g, X, Y, box);
  drawColorbar(g, box, colorFn, barLo, barHi, ticks, labels);
}

/* ---------- panel placement ---------- */
const gapRows = [[112.7,264.3],[321.7,473.3],[546.5,694.5],[770.7,918],[1004,1152]];
const headRows = [[1492.7,1644],[1694.3,1845.5],[1902,2050],[2130.7,2279],[2354.3,2502.7]];
const pressureRows = [[1496,1647.7],[1694.3,1846],[1902,2050],[2130.7,2279],[2354.3,2502.7]];

const gapGrids = [gap400,gap300,gap200,gap100,gap50];
const gapFacetSets = [gapFacets400,gapFacets300,gapFacets200,gapFacets100,gapFacets50];
const degreeGrids = [degree400,degree300,degree200,degree100,degree50];
const degreeFacetSets = [degreeFacets400,degreeFacets300,degreeFacets200,degreeFacets100,degreeFacets50];
const headGrids = [head400,head300,head200,head100,head50];
const pressureGrids = [pressure400,pressure300,pressure200,pressure100,pressure50];
const degreeFilters = ['blurMesh','blurMesh','blurMesh','blurFine','blurSmooth'];

meshNames.forEach((mesh, i) => {
  drawCellPanel('gap-height-panel-' + mesh,
    {left:257, right:902.5, top:gapRows[i][0], bottom:gapRows[i][1], cbL:954.5, cbR:990.8},
    gapGrids[i], colorGap, 'blurGap', false, gapFacetSets[i], true, 0, 1.41, gapBarTicks, gapBarLabels);
  drawCellPanel('degree-panel-' + mesh,
    {left:i < 2 ? 1284.6 : 1277.4, right:i < 2 ? 1923 : 1921, top:gapRows[i][0], bottom:gapRows[i][1], cbL:i < 2 ? 1974 : 1973.5, cbR:i < 2 ? 2010.6 : 2009.5},
    degreeGrids[i], colorDegree, degreeFilters[i], i < 4, degreeFacetSets[i], false, 0, 1, degreeBarTicks, degreeBarLabels);
  drawRowPanel('head-panel-' + mesh,
    {left:264, right:909.7, top:headRows[i][0], bottom:headRows[i][1], cbL:961.8, cbR:998.7},
    headGrids[i], colorHead, 0, 329, i < 2 ? headBarTicksCoarse : headBarTicksFine, i < 2 ? headBarLabelsCoarse : headBarLabelsFine);
  drawRowPanel('effective-pressure-panel-' + mesh,
    {left:1286.6, right:1930, top:pressureRows[i][0], bottom:pressureRows[i][1], cbL:1983.6, cbR:2019},
    pressureGrids[i], colorPressure, 1.645, 2.72, pressureBarTicks, pressureBarLabels);
});
</script>
</body>
</html>
